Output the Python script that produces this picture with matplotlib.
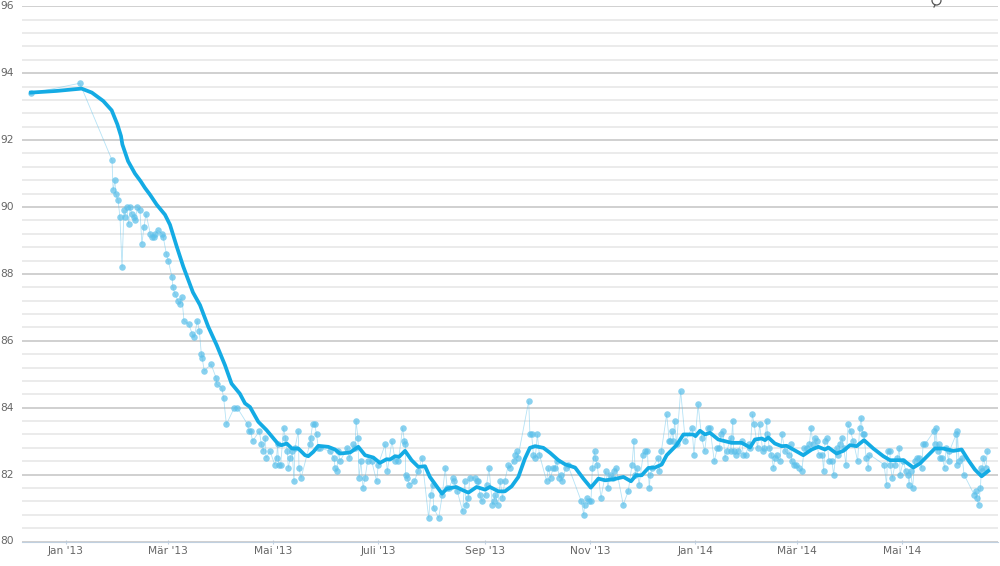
import datetime as dt
import numpy as np
import matplotlib
matplotlib.use('Agg')
import matplotlib.pyplot as plt
import matplotlib.dates as mdates
from matplotlib.patches import Ellipse

# measured weights: days since 1 Jan 2013, kg
days_2013a = [-20.3, 8, 26.7, 27.3, 28.4, 28.8, 30.2, 31.3, 32.5, 33.6, 34, 35.2, 36.3, 37.3, 38, 39.6, 40.2,
              41.4, 42.9, 44, 45.2, 46.4, 48.9, 50, 51.2, 51.8, 53.2, 55.7, 56.4, 58.2, 59.3, 61.5, 62, 63.2,
              64.9, 66.1, 67.2, 68.4, 71.1, 73.3, 74.4, 76.1, 77.3, 78.5, 78.9, 80.2, 84.1, 87, 87.4, 90.3,
              91.4, 93, 97.6, 99.3, 105.3, 105.9, 107.1, 108.2, 112.1, 113.3, 114.4, 115.6, 116, 118.3, 121,
              122.1, 122.7, 123.3, 124.5, 126.2, 127.2, 128.3, 128.9, 130.1, 131.2, 132.2, 132.8, 134.7,
              135.1, 136.3, 141.3, 141.9, 143, 144.2, 145.3, 146.3, 147.3, 153, 155.4, 156, 157, 158, 158.9]
weights_2013a = [93.4, 93.7, 91.4, 90.5, 90.8, 90.4, 90.2, 89.7, 88.2, 89.9, 89.7, 90.0, 89.5, 90.0, 89.8, 89.7, 89.6,
                 90.0, 89.9, 88.9, 89.4, 89.8, 89.2, 89.1, 89.1, 89.2, 89.3, 89.2, 89.1, 88.6, 88.4, 87.9, 87.6, 87.4,
                 87.2, 87.1, 87.3, 86.6, 86.5, 86.2, 86.1, 86.6, 86.3, 85.6, 85.5, 85.1, 85.3, 84.9, 84.7, 84.6,
                 84.3, 83.5, 84.0, 84.0, 83.5, 83.3, 83.3, 83.0, 83.3, 82.9, 82.7, 83.1, 82.5, 82.7, 82.3,
                 82.5, 82.9, 82.3, 82.3, 83.4, 83.1, 82.7, 82.2, 82.5, 82.7, 81.8, 82.8, 83.3,
                 82.2, 81.9, 82.9, 83.1, 83.5, 83.5, 83.2, 82.8, 82.8, 82.7, 82.5, 82.2, 82.1, 82.7, 82.4]

days_2013b = [163.1, 164.3, 166.6, 167.6, 168.2, 169.3, 169.9, 171, 172.2, 173.4, 174.9, 177.3, 180.1, 181.1, 185,
              186.3, 189, 190.9, 192.7, 195.2, 196.2, 196.8, 196.9, 197.9, 199.1, 202, 204.1, 206.4, 210.3, 211.4,
              212.6, 213.2, 216.1, 218.2, 219.9, 221, 222.2, 224.4, 225, 226.9, 230, 231.2, 232.1, 233.3, 234.1,
              237.2, 238.1, 239.1, 240, 241.2, 243.3, 243.9, 245.3, 247.2, 248, 249, 250.4, 251.8, 253.1, 254.4,
              256.5, 257.4, 259.6, 260.6, 261.4, 262, 268.3, 269, 270, 271, 272.1, 273.3, 274.5, 278.7, 279.7,
              281, 282.4, 283.5, 284.5, 286, 286.8, 287.8, 289.7, 290.9, 298.8, 300.2, 300.7, 302, 303.3, 304.4,
              305.2, 306.5, 306.9, 308, 310.2, 313, 314.2, 315.4, 317, 317.9, 319, 323.1, 326, 328.2, 329.3, 330.1,
              331, 332.3, 334.7, 335.9, 337.1, 338.2, 338.8, 340, 343.4, 344, 345.2, 348.3, 349.8, 350.2, 351.4,
              352.1, 352.9, 354, 356.4, 359.1, 363, 364.1]
weights_2013b = [82.8, 82.5, 82.9, 82.8, 83.6, 83.1, 81.9, 82.4, 81.6, 81.9, 82.4, 82.4, 81.8, 82.3, 82.9,
                 82.1, 83.0, 82.4, 82.4, 83.4, 83.0, 82.9, 82.0, 81.9, 81.7, 81.8, 82.1, 82.5, 80.7, 81.4,
                 81.7, 81.0, 80.7, 81.4, 82.2, 81.6, 81.6, 81.9, 81.8, 81.5, 80.9, 81.8, 81.1, 81.3, 81.9,
                 81.9, 81.8, 81.8, 81.4, 81.2, 81.4, 81.7, 82.2, 81.1, 81.2, 81.4, 81.1, 81.8, 81.3, 81.8,
                 82.3, 82.2, 82.4, 82.6, 82.7, 82.5, 84.2, 83.2, 83.2, 82.6, 82.5, 83.2, 82.6, 81.8, 82.2,
                 81.9, 82.2, 82.2, 82.4, 81.9, 82.0, 81.8, 82.2, 82.3, 81.2, 80.8, 81.1, 81.3, 81.2, 81.2,
                 82.2, 82.7, 82.5, 82.3, 81.3, 82.1, 81.6, 82.0, 81.9, 82.1, 82.2, 81.1, 81.5, 82.3, 83.0, 82.0,
                 82.2, 81.7, 82.6, 82.7, 82.7, 81.6, 82.0, 82.2, 82.5, 82.1, 82.7, 83.8, 83.0, 83.0, 83.3,
                 83.0, 83.6, 82.9, 84.5, 83.0, 83.4, 82.6]

days_2014 = [366.5, 368.6, 370.3, 372, 373.4, 375.9, 377.7, 378.8, 379.8, 380.9, 382.1, 383.1, 385.4, 385.5, 386.6,
             387.1, 388.3, 389.8, 391.8, 392.7, 394.1, 396, 396.8, 398, 399, 401, 402.2, 404, 405, 406.3, 406.7,
             407.8, 409, 410.2, 411.1, 412.1, 414, 415.1, 417, 419.3, 420.3, 420.7, 422.1, 423.3, 425.2, 426.6,
             428.1, 429.7, 431, 432, 433.1, 434.3, 435.3, 436.4, 438.5, 439.3, 440.1, 441.1, 442.4, 444.1, 445.1,
             446.8, 447.8, 448.8, 449.9, 451, 452.2, 453.5, 454.9, 456.5, 459, 460.2, 461.1, 461.9, 462.7, 463.9,
             465.2, 465.8, 474.3, 475.8, 476.4, 477.8, 477.9, 479.1, 480.7, 482.1, 483.2, 483.6, 485.5, 487, 488.2,
             488.8, 489.7, 490.9, 492.1, 493.2, 494.8, 496.1, 497, 498, 503.3, 503.8, 504.4, 505.4, 506.4, 506.8,
             508.1, 509.5, 510.3, 511.8, 512.2, 516.1, 516.4, 516.8, 517.8, 519.7, 520.7, 526.6, 527.6, 528, 529.2,
             530.2, 530.8, 531.3, 531.9, 533.4, 534.2]
weights_2014 = [84.1, 83.1, 82.7, 83.4, 83.4, 82.4, 82.8, 82.8, 83.2, 83.3, 82.5, 82.7, 83.1, 82.7, 83.6,
                82.7, 82.6, 82.7, 83.0, 82.6, 82.6, 82.9, 82.8, 83.8, 83.5, 82.8, 83.5, 82.7, 82.8, 83.6, 83.2,
                82.8, 82.6, 82.2, 82.5, 82.6, 82.4, 83.2, 82.7, 82.6, 82.9, 82.4, 82.3, 82.3, 82.2, 82.1,
                82.8, 82.8, 82.9, 83.4, 82.9, 83.1, 83.0, 82.6, 82.6, 82.1, 83.0, 83.1, 82.4, 82.4, 82.0,
                82.8, 82.6, 82.9, 83.1, 82.8, 82.3, 83.5, 83.3, 83.0, 82.4, 83.4, 83.7, 83.2, 83.2, 82.5,
                82.2, 82.6, 82.3, 81.7, 82.7, 82.7, 82.3, 81.9, 82.3, 82.5, 82.8, 82.0, 82.4, 82.1, 82.0,
                81.7, 82.1, 81.6, 82.4, 82.5, 82.5, 82.2, 82.9, 82.9, 83.3, 82.9, 83.4, 82.7, 82.9, 82.5,
                82.5, 82.2, 82.8, 82.4, 82.7, 83.2, 82.3, 83.3, 82.4, 82.5, 82.0, 81.4, 81.5, 81.3, 81.1,
                81.6, 82.2, 82.1, 82.5, 82.2, 82.7]

# smoothed trend line
trend_days = [-20.3, -5.4, 9, 15, 21.6, 26.5, 29.8, 31.9, 32.7, 36, 40, 43.3, 45.8, 48.7, 52.6, 57.4, 60.3, 64.2,
              68, 73.6, 77.7, 82.5, 87.4, 92.2, 96, 100.8, 103.8, 106.7, 111.5, 116.3, 123.1, 125, 128, 131, 134.7,
              138.6, 140.5, 143.4, 146.3, 152.1, 156, 158.9, 164.7, 169.5, 173.4, 178.2, 182, 185.9, 187.9, 190.8,
              193.1, 196.6, 200.4, 204.3, 208.2, 211, 214.9, 218, 220.8, 226.2, 229.4, 233.3, 238.1, 243, 245.8,
              250.7, 254.5, 258.4, 262.3, 266.1, 269, 272, 276.8, 280.7, 285.5, 289.3, 295.2, 300, 304.3, 308.7,
              312.6, 317.4, 323.2, 327.6, 330.5, 333.8, 337.7, 341.5, 345.4, 348.3, 354, 358, 363.7, 365, 367.6,
              370.5, 373.4, 378.2, 385.9, 391.8, 396.6, 399.5, 403.4, 405.3, 407.2, 411, 414.9, 417.8, 421.7, 427.5,
              432.4, 436.2, 440.1, 442, 446.8, 450.7, 454.6, 458.4, 462.7, 468.1, 473.9, 477.8, 482.1, 485.5, 491.3,
              495.1, 499, 503.8, 508.6, 514.5, 519.3, 523.2, 527, 530.9, 534.8]
trend_weights = [93.42, 93.47, 93.54, 93.42, 93.17, 92.89, 92.47, 92.12, 91.87, 91.37, 91.0, 90.77, 90.57, 90.37, 90.07,
                 89.77, 89.47, 88.82, 88.22, 87.45, 87.07, 86.42, 85.87, 85.27, 84.72, 84.42, 84.13, 84.02, 83.58, 83.33,
                 82.91, 82.88, 82.93, 82.78, 82.78, 82.58, 82.55, 82.68, 82.86, 82.83, 82.75, 82.63, 82.66, 82.83, 82.58,
                 82.51, 82.35, 82.46, 82.45, 82.55, 82.53, 82.71, 82.43, 82.23, 82.25, 81.93, 81.65, 81.43, 81.58, 81.63,
                 81.55, 81.46, 81.63, 81.55, 81.63, 81.5, 81.5, 81.65, 81.93, 82.48, 82.8, 82.85, 82.8, 82.65, 82.43, 82.31,
                 82.21, 81.88, 81.61, 81.88, 81.83, 81.86, 81.93, 81.8, 81.98, 81.98, 82.2, 82.21, 82.3, 82.58, 82.88, 83.2,
                 83.2, 83.15, 83.31, 83.2, 83.25, 83.05, 82.95, 82.95, 82.81, 83.05, 83.08, 83.03, 83.11, 82.93, 82.85, 82.86,
                 82.75, 82.58, 82.75, 82.83, 82.75, 82.81, 82.63, 82.71, 82.88, 82.85, 83.03, 82.78, 82.55, 82.43, 82.43,
                 82.43, 82.21, 82.33, 82.53, 82.78, 82.78, 82.71, 82.75, 82.43, 82.15, 81.95, 82.11]

tick_dates = [dt.date(2013, 1, 1), dt.date(2013, 3, 1), dt.date(2013, 5, 1), dt.date(2013, 7, 1), dt.date(2013, 9, 1),
              dt.date(2013, 11, 1), dt.date(2014, 1, 1), dt.date(2014, 3, 1), dt.date(2014, 5, 1)]
tick_labels = ["Jan '13", "Mär '13", "Mai '13", "Juli '13", "Sep '13", "Nov '13", "Jan '14", "Mär '14", "Mai '14"]

start = mdates.date2num(dt.date(2013, 1, 1))
days = np.array(days_2013a + days_2013b + days_2014)
weights = np.array(weights_2013a + weights_2013b + weights_2014)
order = np.argsort(days)

fig = plt.figure(figsize=(10, 5.66), dpi=100)
ax = fig.add_axes([22 / 1000, 1 - 541.5 / 566, 976 / 1000, 535.2 / 566])

# thin line + points, thick trend on top
ax.plot(start + days[order], weights[order], color='#5cc0ea', lw=0.6, alpha=0.45, zorder=3)
ax.plot(start + days[order], weights[order], ls='none', marker='o', ms=4.7, mew=0, color='#5cc0ea', alpha=0.72, zorder=4)
ax.plot(start + np.array(trend_days), trend_weights, color='#14abe4', lw=2.7, zorder=5, solid_joinstyle='round')

ax.set_xlim(start - 25.5, start + 540.4)
ax.set_ylim(80, 96)

ax.set_yticks(np.arange(80, 97, 2))
ax.set_yticks(np.arange(80, 96.1, 0.4), minor=True)
ax.set_xticks([mdates.date2num(d) for d in tick_dates])
ax.set_xticklabels(tick_labels)
ax.grid(True, which='minor', axis='y', color='#e6e6e6', lw=1.1)
ax.grid(True, which='major', axis='y', color='#c4c4c4', lw=1.1)
ax.set_axisbelow(True)

for s in ['top', 'left', 'right']:
    ax.spines[s].set_visible(False)
ax.spines['bottom'].set_color('#c0d0e0')
ax.tick_params(axis='x', length=3, color='#c0d0e0', labelsize=7.7, labelcolor='#666666', pad=2, direction='inout')
ax.tick_params(axis='y', which='both', length=0, labelsize=7.7, labelcolor='#666666', pad=15.5)
for label in ax.get_yticklabels():
    label.set_horizontalalignment('left')
    label.set_verticalalignment('center')

# bit of the speech bubble icon cut off at the top edge
fig.add_artist(Ellipse((936.5 / 1000, 1 - 0.5 / 566), 9 / 1000, 9 / 566, transform=fig.transFigure,
                       fill=False, ec='#555555', lw=0.9))
fig.add_artist(plt.Line2D([935 / 1000, 934 / 1000], [1 - 5 / 566, 1 - 7 / 566], transform=fig.transFigure,
                          color='#555555', lw=0.9))

fig.savefig('out.png', dpi=100)
